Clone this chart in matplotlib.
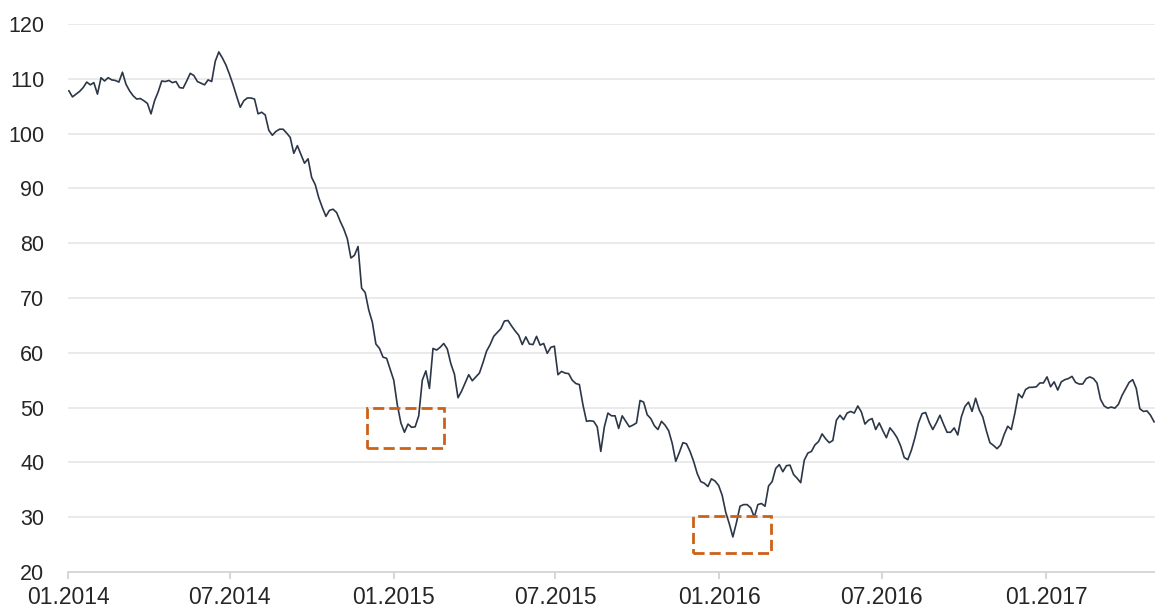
import matplotlib
matplotlib.use("Agg")
import matplotlib.pyplot as plt
import matplotlib.dates as mdates
from matplotlib.patches import Rectangle
import pandas as pd

# price readings, one every 4 days starting 2 Jan 2014
start_date = "2014-01-02"
step = "4D"
prices = [
    107.8, 106.7, 107.2, 107.7, 108.4, 109.4, 108.9, 109.3, 107.2, 110.2,
    109.6, 110.2, 109.8, 109.7, 109.4, 111.2, 109.0, 107.8, 106.9, 106.3,
    106.4, 106.0, 105.5, 103.6, 106.0, 107.6, 109.6, 109.5, 109.7, 109.3,
    109.5, 108.4, 108.3, 109.6, 111.0, 110.6, 109.5, 109.2, 108.9, 109.8,
    109.5, 113.2, 114.9, 113.8, 112.5, 110.8, 108.9, 106.8, 104.8, 106.0,
    106.5, 106.5, 106.3, 103.6, 103.9, 103.4, 100.6, 99.7, 100.4, 100.8,
    100.8, 100.1, 99.3, 96.4, 97.8, 96.2, 94.6, 95.4, 92.0, 90.7,
    88.3, 86.5, 84.9, 86.0, 86.2, 85.6, 84.0, 82.6, 80.8, 77.3,
    77.8, 79.4, 71.8, 71.0, 67.8, 65.6, 61.6, 60.8, 59.2, 59.0,
    57.0, 55.0, 50.5, 47.2, 45.5, 47.0, 46.4, 46.5, 48.5, 55.0,
    56.7, 53.5, 60.8, 60.5, 61.0, 61.7, 60.7, 58.0, 56.1, 51.8,
    53.0, 54.5, 56.0, 54.9, 55.6, 56.3, 58.2, 60.3, 61.5, 63.0,
    63.7, 64.4, 65.8, 65.9, 64.9, 64.0, 63.2, 61.5, 62.9, 61.6,
    61.5, 63.0, 61.4, 61.7, 59.9, 61.0, 61.2, 56.0, 56.6, 56.3,
    56.2, 55.0, 54.4, 54.2, 50.5, 47.5, 47.6, 47.5, 46.5, 42.0,
    46.5, 49.0, 48.5, 48.5, 46.2, 48.5, 47.5, 46.5, 46.8, 47.2,
    51.3, 51.0, 48.7, 48.0, 46.7, 46.0, 47.5, 46.8, 45.8, 43.5,
    40.2, 41.8, 43.6, 43.4, 42.0, 40.2, 38.0, 36.5, 36.2, 35.6,
    37.0, 36.6, 35.8, 34.0, 30.9, 28.8, 26.4, 29.0, 32.0, 32.3,
    32.3, 31.7, 30.0, 32.3, 32.5, 32.0, 35.7, 36.5, 38.9, 39.6,
    38.3, 39.4, 39.5, 37.8, 37.1, 36.3, 40.4, 41.7, 42.0, 43.2,
    43.8, 45.2, 44.3, 43.6, 44.0, 47.7, 48.6, 47.8, 49.0, 49.3,
    49.0, 50.3, 49.2, 47.0, 47.7, 48.0, 46.0, 47.2, 45.8, 44.5,
    46.3, 45.5, 44.5, 43.0, 40.9, 40.5, 42.2, 44.5, 47.2, 48.9,
    49.1, 47.3, 46.0, 47.2, 48.6, 47.0, 45.5, 45.5, 46.3, 45.0,
    48.3, 50.2, 51.0, 49.3, 51.7, 49.6, 48.3, 45.8, 43.6, 43.1,
    42.5, 43.2, 45.1, 46.6, 46.0, 49.0, 52.5, 51.8, 53.3, 53.7,
    53.7, 53.8, 54.5, 54.5, 55.6, 53.8, 54.7, 53.2, 54.7, 55.1,
    55.3, 55.7, 54.6, 54.3, 54.3, 55.3, 55.6, 55.3, 54.5, 51.5,
    50.3, 49.9, 50.1, 49.9, 50.6, 52.2, 53.4, 54.6, 55.1, 53.5,
    49.8, 49.3, 49.4, 48.6, 47.4,
]

# highlighted lows: (from, to, low, high)
highlight_boxes = [
    ("2014-12-02", "2015-02-26", 42.6, 50.0),
    ("2015-12-02", "2016-02-28", 23.5, 30.2),
]

y_ticks = list(range(20, 121, 10))

dates = pd.date_range(start_date, periods=len(prices), freq=step)

plt.rcParams["font.family"] = ["Liberation Sans", "DejaVu Sans"]

fig = plt.figure(figsize=(11.55, 6.10), dpi=100)
ax = fig.add_axes([68 / 1155, 38 / 610, 1087 / 1155, 548 / 610])

ax.plot(dates, prices, color="#2b3648", lw=1.2, zorder=3)

for d0, d1, lo, hi in highlight_boxes:
    x0 = mdates.date2num(pd.Timestamp(d0))
    x1 = mdates.date2num(pd.Timestamp(d1))
    ax.add_patch(Rectangle((x0, lo), x1 - x0, hi - lo, fill=False,
                           edgecolor="#cc6118", lw=2.0,
                           linestyle=(0, (4, 1.8)), zorder=4))

ax.set_ylim(20, 120)
ax.set_yticks(y_ticks)
ax.set_xlim(pd.Timestamp("2014-01-01"), pd.Timestamp("2017-05-03"))
ax.xaxis.set_major_locator(mdates.MonthLocator(bymonth=[1, 7]))
ax.xaxis.set_major_formatter(mdates.DateFormatter("%m.%Y"))

ax.yaxis.grid(True, color="#e8e8e8", lw=1.3)
ax.set_axisbelow(True)
for s in ["top", "right", "left"]:
    ax.spines[s].set_visible(False)
ax.spines["bottom"].set_color("#d6d6d6")
ax.spines["bottom"].set_linewidth(1.3)

ax.tick_params(axis="y", length=0, pad=17, labelsize=15.5, labelcolor="#262626")
ax.tick_params(axis="x", length=5, width=1.2, color="#d0d0d0", pad=5,
               labelsize=16.5, labelcolor="#262626")

fig.savefig("out.png", dpi=100)
